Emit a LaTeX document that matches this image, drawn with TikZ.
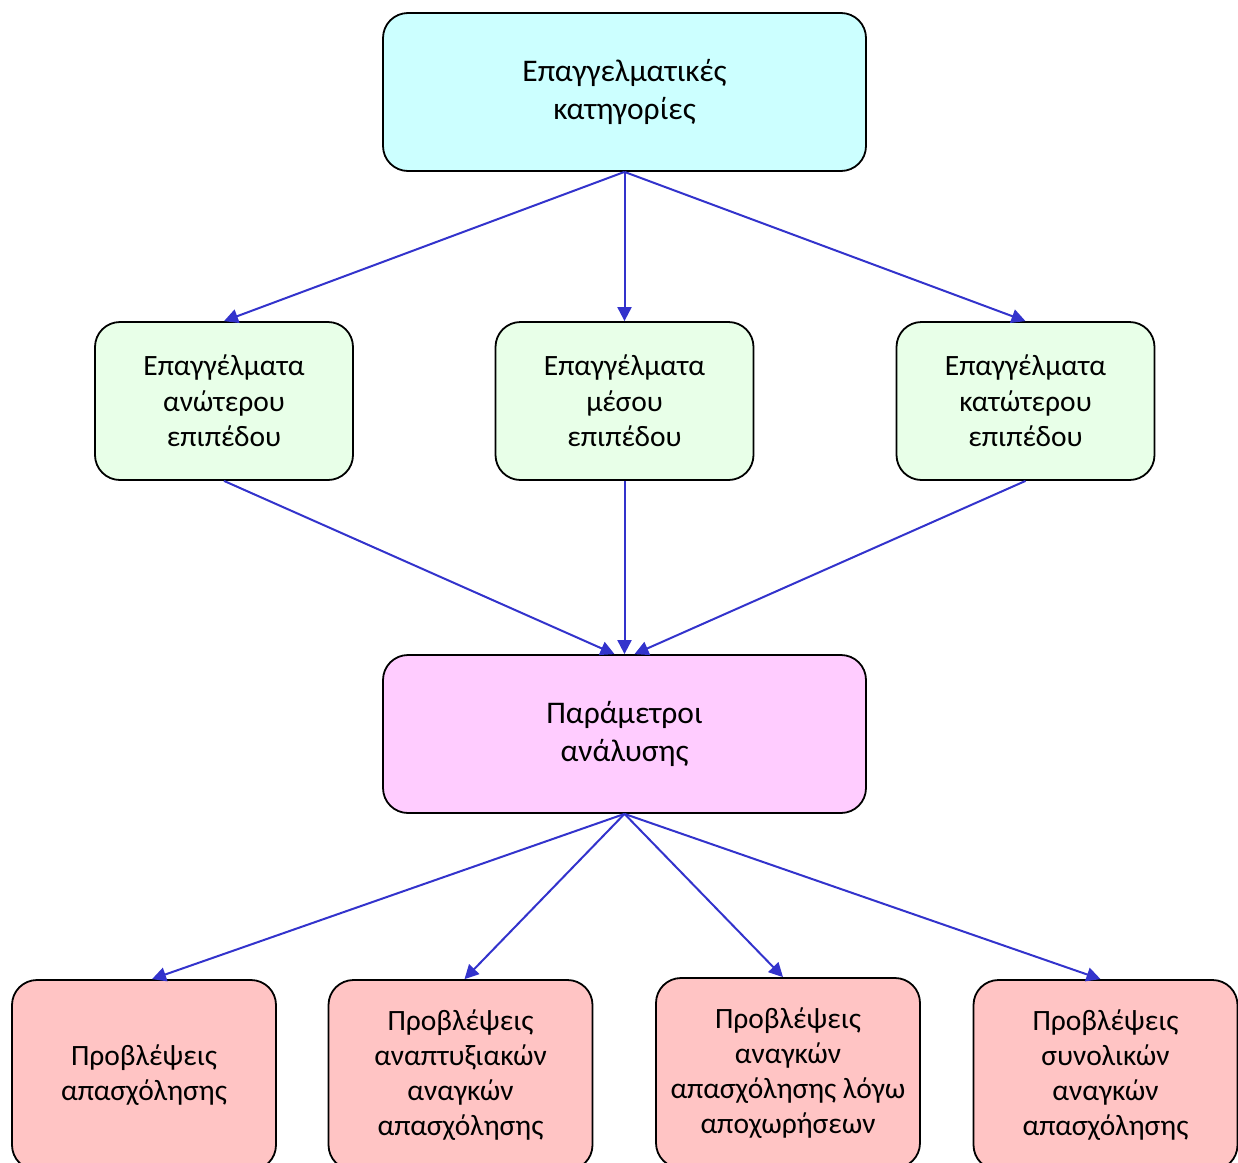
\documentclass[tikz,border=0pt]{standalone}
\usepackage{fontspec}
\setmainfont{Carlito}
\usetikzlibrary{arrows.meta}
\definecolor{topc}{RGB}{204,255,255}
\definecolor{midc}{RGB}{232,255,232}
\definecolor{parc}{RGB}{255,204,255}
\definecolor{botc}{RGB}{255,196,196}
\definecolor{arrc}{RGB}{51,51,204}
\begin{document}
\begin{tikzpicture}[x=1pt,y=-1pt,
  box/.style={draw=black, line width=1.8pt, rounded corners=25pt, align=center, inner sep=0pt},
  bigbox/.style={box, minimum width=483pt, minimum height=158pt, font=\fontsize{31.5}{38}\selectfont},
  midbox/.style={box, fill=midc, minimum width=258pt, minimum height=158pt, font=\fontsize{29.5}{35.5}\selectfont},
  botbox/.style={box, fill=botc, minimum width=264pt, minimum height=190pt, font=\fontsize{29.5}{35}\selectfont},
  arr/.style={draw=arrc, line width=2pt, -{Triangle[length=14pt,width=14pt]}, arrc}]
\useasboundingbox (0,0) rectangle (1238,1162);
\node[bigbox, fill=topc] (top) at (624.5,92) {Επαγγελματικές\\κατηγορίες};
\node[midbox] (m1) at (224,401) {Επαγγέλματα\\ανώτερου\\επιπέδου};
\node[midbox] (m2) at (624.5,401) {Επαγγέλματα\\μέσου\\επιπέδου};
\node[midbox] (m3) at (1025.5,401) {Επαγγέλματα\\κατώτερου\\επιπέδου};
\node[bigbox, fill=parc] (par) at (624.5,734) {Παράμετροι\\ανάλυσης};
\node[botbox] (b1) at (144,1075) {Προβλέψεις\\απασχόλησης};
\node[botbox] (b2) at (460.5,1075) {Προβλέψεις\\αναπτυξιακών\\αναγκών\\απασχόλησης};
\node[botbox] (b3) at (788,1073) {Προβλέψεις\\αναγκών\\απασχόλησης λόγω\\αποχωρήσεων};
\node[botbox] (b4) at (1105.5,1075) {Προβλέψεις\\συνολικών\\αναγκών\\απασχόλησης};
\draw[arr] (top.south) -- (m1.north);
\draw[arr] (top.south) -- (m2.north);
\draw[arr] (top.south) -- (m3.north);
\draw[arr] (m1.south) -- ([xshift=-10pt]par.north);
\draw[arr] (m2.south) -- (par.north);
\draw[arr] (m3.south) -- ([xshift=10pt]par.north);
\draw[arr] (par.south) -- ([xshift=8pt]b1.north);
\draw[arr] (par.south) -- ([xshift=4pt]b2.north);
\draw[arr] (par.south) -- ([xshift=-5pt]b3.north);
\draw[arr] (par.south) -- ([xshift=-5pt]b4.north);
\end{tikzpicture}
\end{document}
